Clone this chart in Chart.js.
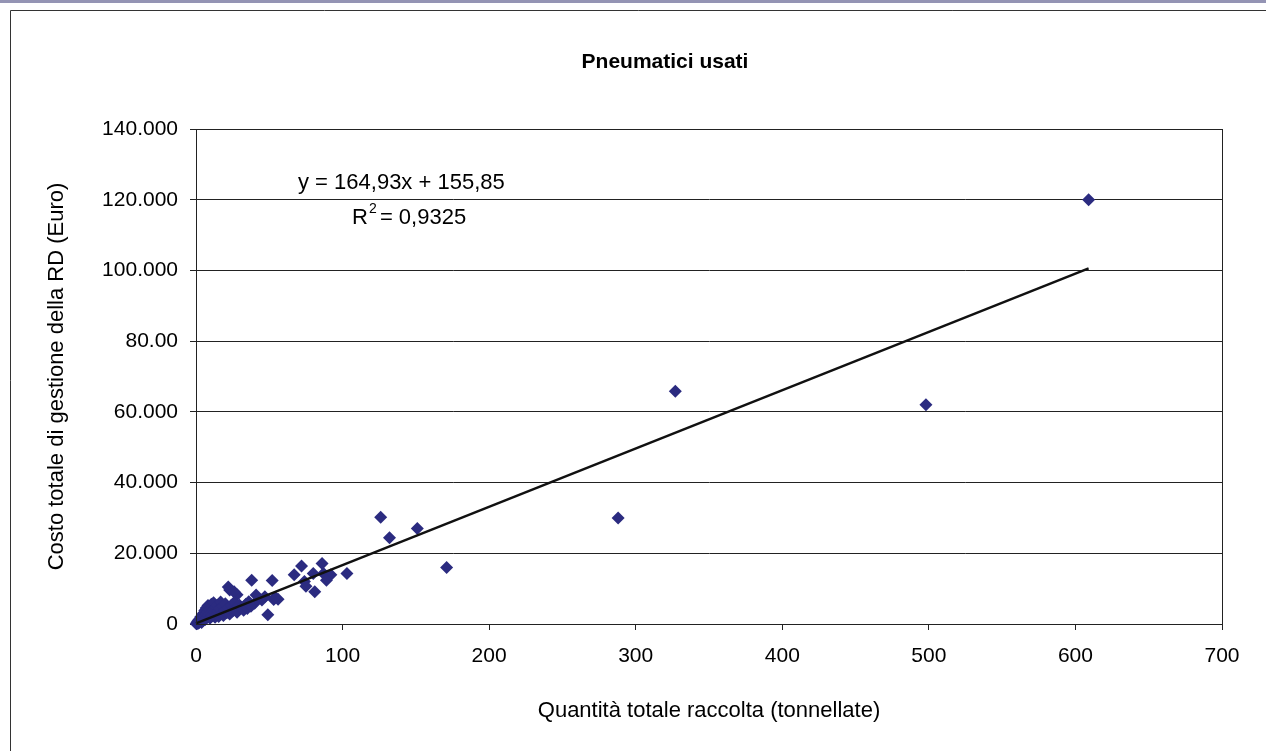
<!DOCTYPE html>
<html>
<head>
<meta charset="utf-8">
<script src="https://cdn.jsdelivr.net/npm/chart.js@4.4.0/dist/chart.umd.min.js"></script>
<style>
  html, body { margin: 0; padding: 0; background: #fff; }
  #wrap { width: 1266px; height: 751px; position: relative; }
</style>
</head>
<body>
<div id="wrap"><canvas id="myChart" width="1266" height="751"></canvas></div>
<script>
// Dati: quantita (tonnellate) e costo (Euro)
const quantita = [
  609, 498, 327, 288, 171, 151, 132, 126, 103,
  72, 86, 67, 80, 87, 92, 74, 89, 75, 81,
  52, 38, 49, 53, 56, 45, 41, 47, 54, 40, 23, 28, 22, 26,
  0.2, 0.5, 0.8, 1, 1.2, 1.5, 1.8, 2, 2.2, 2.5, 2.8, 3, 3.2, 3.5, 3.8, 4, 4.3, 4.6,
  5, 5.3, 5.6, 6, 6.3, 6.7, 7, 7.4, 7.8, 8.2, 8.6, 9, 9.5, 10, 10.5, 11, 11.5, 12,
  12.5, 13, 13.5, 14, 14.5, 15, 15.5, 16, 16.8, 17.5, 18, 18.7, 19.5, 20, 21, 22,
  23, 24, 25, 26, 27, 28, 29.5, 31, 32.5, 34, 35, 36, 37.5
];
const costo = [
  120000, 62000, 65800, 30000, 16000, 27000, 24400, 30200, 14300,
  16400, 17100, 13900, 14300, 14300, 13900, 12000, 12400, 10700, 9100,
  12300, 12400, 2600, 6900, 7000, 6800, 8200, 7700, 7600, 5900, 9600, 8300, 10500, 9100,
  100, 300, 150, 500, 800, 200, 600, 1200, 400, 900, 1500, 700, 2000, 1100, 400, 1800, 2600, 900,
  1400, 3100, 2200, 3800, 1300, 2800, 4500, 1900, 3400, 5200, 2500, 4100, 1600, 3000, 5600, 2300, 4000, 6000,
  3300, 1900, 4800, 2700, 5300, 3600, 2100, 4300, 6200, 3000, 5000, 2400, 3900, 5700, 3200, 4600,
  2800, 5200, 3700, 6100, 4200, 3300, 5400, 4700, 3900, 5600, 4400, 6300, 5000
];

// Linea di tendenza (equazione riportata sul grafico)
const pendenza = 164.93;
const intercetta = 155.85;
const trendX = [0, 609];

const xTickLabels = ['0', '100', '200', '300', '400', '500', '600', '700'];
const yTickLabels = ['0', '20.000', '40.000', '60.000', '80.00', '100.000', '120.000', '140.000'];

const FONT = "'Liberation Sans', Arial, sans-serif";

const punti = quantita.map((q, i) => ({ x: q, y: costo[i] }));
const trend = trendX.map(x => ({ x: x, y: pendenza * x + intercetta }));

// cornice, titolo, bordo area ed equazione
const decorazioni = {
  id: 'decorazioni',
  beforeDraw(chart) {
    const c = chart.ctx;
    c.save();
    c.fillStyle = '#9494b4';
    c.fillRect(0, 0, 1266, 3);
    c.strokeStyle = '#333';
    c.lineWidth = 1;
    c.beginPath();
    c.moveTo(10.5, 751);
    c.lineTo(10.5, 10.5);
    c.lineTo(1266, 10.5);
    c.stroke();
    c.fillStyle = '#000';
    c.font = 'bold 21px ' + FONT;
    c.textAlign = 'center';
    c.textBaseline = 'middle';
    c.fillText('Pneumatici usati', 665, 62);
    c.restore();
  },
  afterDatasetsDraw(chart) {
    const c = chart.ctx;
    const a = chart.chartArea;
    c.save();
    c.strokeStyle = '#222';
    c.lineWidth = 1;
    c.strokeRect(Math.round(a.left) + 0.5, Math.round(a.top) + 0.5,
      Math.round(a.right - a.left), Math.round(a.bottom - a.top));
    c.fillStyle = '#000';
    c.font = '22px ' + FONT;
    c.textBaseline = 'middle';
    c.textAlign = 'left';
    c.fillText('y = 164,93x + 155,85', 298, 183);
    c.fillText('R', 352, 218);
    const wR = c.measureText('R').width;
    c.font = '14px ' + FONT;
    c.fillText('2', 352 + wR + 1, 209);
    c.font = '22px ' + FONT;
    c.fillText('= 0,9325', 352 + wR + 12, 218);
    c.restore();
  }
};

const ctx = document.getElementById('myChart').getContext('2d');
const myChart = new Chart(ctx, {
  type: 'scatter',
  data: {
    datasets: [
      {
        type: 'line',
        label: 'Tendenza',
        data: trend,
        borderColor: '#111',
        borderWidth: 2.5,
        pointRadius: 0,
        fill: false,
        clip: false
      },
      {
        label: 'Pneumatici usati',
        data: punti,
        pointStyle: 'rectRot',
        pointRadius: 6.5,
        pointBackgroundColor: '#2b2b80',
        pointBorderColor: '#2b2b80',
        pointBorderWidth: 0,
        clip: false
      }
    ]
  },
  options: {
    responsive: false,
    animation: false,
    layout: { padding: { top: 129, right: 44, bottom: 0, left: 0 } },
    plugins: {
      legend: { display: false },
      tooltip: { enabled: false }
    },
    scales: {
      x: {
        type: 'linear',
        min: 0,
        max: 700,
        afterFit: s => { s.height = 127; },
        border: { color: '#222', width: 1 },
        grid: { drawOnChartArea: false, drawTicks: true, tickLength: 6, color: '#222' },
        ticks: {
          stepSize: 100,
          padding: 14,
          color: '#000',
          font: { family: FONT, size: 21 },
          callback: (v, i) => xTickLabels[i]
        },
        title: {
          display: true,
          text: 'Quantità totale raccolta (tonnellate)',
          color: '#000',
          font: { family: FONT, size: 22 },
          padding: { top: 0, bottom: 27 }
        }
      },
      y: {
        type: 'linear',
        min: 0,
        max: 140000,
        afterFit: s => { s.width = 196; },
        border: { color: '#222', width: 1 },
        grid: { color: '#222', lineWidth: 1, tickLength: 6 },
        ticks: {
          stepSize: 20000,
          padding: 12,
          color: '#000',
          font: { family: FONT, size: 21 },
          callback: (v, i) => yTickLabels[i]
        },
        title: {
          display: true,
          text: 'Costo totale di gestione della RD (Euro)',
          color: '#000',
          font: { family: FONT, size: 22 },
          padding: { top: 44, bottom: 0 }
        }
      }
    }
  },
  plugins: [decorazioni]
});
</script>
</body>
</html>
